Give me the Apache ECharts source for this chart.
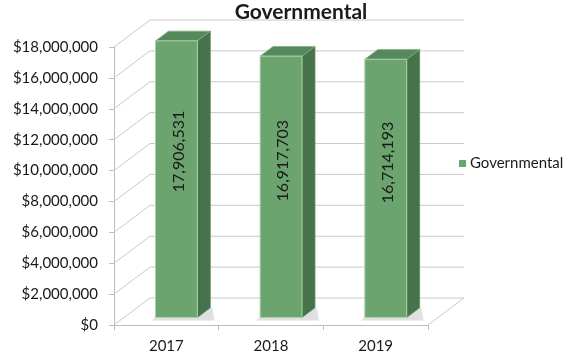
<!DOCTYPE html>
<html><head><meta charset="utf-8">
<script src="https://cdn.jsdelivr.net/npm/echarts@6/dist/echarts.min.js"></script>
<style>html,body{margin:0;padding:0;background:#fff}#c{width:574px;height:360px}</style>
</head><body><div id="c"></div>
<script>
const categories = ['2017', '2018', '2019'];
const values = [17906531, 16917703, 16714193];
const seriesName = 'Governmental';
const yTicks = [0, 2000000, 4000000, 6000000, 8000000, 10000000, 12000000, 14000000, 16000000, 18000000];

const FONT = 'Lato';
const DEPTH = [36, -27];
const FRONT = '#6ba46e', SIDE = '#46734b', TOP = '#55895b', EDGE = '#a9d3a9';
const GRID = '#c9c9c9';

function fmt(v){ return v.toLocaleString('en-US'); }

const chart = echarts.init(document.getElementById('c'), null, {renderer:'canvas'});

function wallItem(params, api){
  const v = api.value(1);
  const band = api.size([1, 0])[0];
  const p0 = api.coord([0, v]);
  const pN = api.coord([categories.length - 1, v]);
  const xl = p0[0] - band / 2, xr = pN[0] + band / 2, y = p0[1];
  const style = {stroke: GRID, lineWidth: 1, fill: null};
  const children = [
    {type:'line', shape:{x1:xl, y1:y, x2:xl + DEPTH[0], y2:y + DEPTH[1]}, style},
    {type:'line', shape:{x1:xl + DEPTH[0], y1:y + DEPTH[1], x2:xr + DEPTH[0], y2:y + DEPTH[1]}, style}
  ];
  if (v === 0) {
    children.push({type:'line', shape:{x1:xr, y1:y, x2:xr + DEPTH[0], y2:y + DEPTH[1]}, style});
  }
  return {type:'group', children};
}

function barItem(params, api){
  const i = api.value(0), v = api.value(1);
  const band = api.size([1, 0])[0];
  const base = api.coord([i, 0]);
  const top = api.coord([i, v]);
  const f0 = 0.28, fd = 0.36;
  const sx = DEPTH[0] * f0, sy = DEPTH[1] * f0;
  const dx = DEPTH[0] * fd, dy = DEPTH[1] * fd;
  const w = band * 0.4;
  const x0 = base[0] + sx - w / 2, x1 = x0 + w;
  const yb = base[1] + sy, yt = top[1] + sy;
  const lbl = fmt(values[i]);
  return {type:'group', children:[
    {type:'polygon', shape:{points:[[x0-4,yb+3],[x1+dx+4,yb+3],[x1+dx+2,yb+dy],[x0+dx-4,yb+dy]]},
      style:{fill:'rgba(0,0,0,0.10)', shadowBlur:6, shadowColor:'rgba(0,0,0,0.25)'}},
    {type:'polygon', shape:{points:[[x1,yt],[x1+dx,yt+dy],[x1+dx,yb+dy],[x1,yb]]},
      style:{fill:SIDE, stroke:'#5d8f62', lineWidth:0.8}},
    {type:'polygon', shape:{points:[[x0,yt],[x1,yt],[x1+dx,yt+dy],[x0+dx,yt+dy]]},
      style:{fill:TOP, stroke:'#7fb283', lineWidth:0.8}},
    {type:'rect', shape:{x:x0, y:yt, width:w, height:yb-yt},
      style:{fill:FRONT, stroke:EDGE, lineWidth:1}},
    {type:'text', x:(x0+x1)/2 + 2, y:yb - (yb - yt) * 0.6, rotation:Math.PI/2,
      style:{text:lbl, fill:'#1a1a1a', font:'16px ' + FONT, align:'center', verticalAlign:'middle'}}
  ]};
}

chart.setOption({
  animation:false,
  backgroundColor:'#fff',
  title:{text:seriesName, left:301, top:2, textAlign:'center', padding:0,
    textStyle:{fontFamily:FONT, fontWeight:'bold', fontSize:21, color:'#1a1a1a'}},
  legend:{data:[seriesName], orient:'vertical', left:459, top:156, padding:0,
    icon:'rect', itemWidth:7, itemHeight:7, itemGap:4,
    textStyle:{fontFamily:FONT, fontSize:15, color:'#1a1a1a', padding:[0,0,0,-1]}},
  grid:{left:114, right:146, top:47, bottom:35, containLabel:false},
  xAxis:{type:'category', data:categories,
    axisLine:{lineStyle:{color:'#bdbdbd'}},
    axisTick:{show:true, length:5, lineStyle:{color:'#bdbdbd'}},
    axisLabel:{fontFamily:FONT, fontSize:15, color:'#1a1a1a', margin:14},
    splitLine:{show:false}},
  yAxis:{type:'value', min:0, max:18000000, interval:2000000,
    axisLine:{show:true, lineStyle:{color:'#bdbdbd'}},
    axisTick:{show:true, length:5, lineStyle:{color:'#bdbdbd'}},
    axisLabel:{fontFamily:FONT, fontSize:15, color:'#1a1a1a', margin:16,
      formatter:v => '$' + fmt(v)},
    splitLine:{show:false}},
  series:[
    {type:'custom', name:'wall', silent:true, z:1, renderItem:wallItem,
      encode:{x:0, y:1}, data:yTicks.map(v => [0, v])},
    {type:'custom', name:seriesName, z:3, renderItem:barItem, itemStyle:{color:FRONT},
      encode:{x:0, y:1}, data:categories.map((c, i) => [i, values[i]])}
  ]
});
</script></body></html>
